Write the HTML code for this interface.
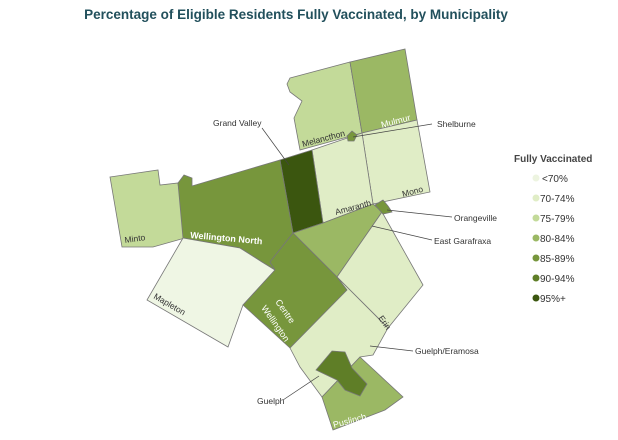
<!DOCTYPE html><html><head><style>body{margin:0;background:#fff;width:618px;height:435px;overflow:hidden}svg text{font-family:"Liberation Sans",sans-serif}</style></head><body>
<svg width="618" height="435" viewBox="0 0 618 435">
<text x="296" y="19" text-anchor="middle" font-size="13.5" font-weight="bold" fill="#22505c">Percentage of Eligible Residents Fully Vaccinated, by Municipality</text>
<g stroke="#777" stroke-width="0.8">
<polygon fill="#c3da99" points="290,78 350,62 362,133 300,150 294,118 302,101 290,92 287,84"/>
<polygon fill="#9bb864" points="350,62 405,49 417,120 362,133"/>
<polygon fill="#e0edc6" points="362,133 417,120 430,192 373,204"/>
<polygon fill="#e0edc6" points="312,150 362,133 373,204 323,223"/>
<polygon fill="#3b560f" points="280,160 312,150 323,223 293,233"/>
<polygon fill="#c3da99" points="110,177 158,170 160,185 178,183 185,238 153,247 122,247"/>
<polygon fill="#77963c" points="178,183 184,175 192,178 192,186 280,160 293,233 270,262 275,270 262,262 240,248 183,238"/>
<polygon fill="#eff6e4" points="183,238 240,248 262,262 275,270 243,305 228,347 147,300"/>
<polygon fill="#9bb864" points="293,233 323,223 373,204 382,212 337,277"/>
<polygon fill="#77963c" points="293,233 337,277 347,290 290,348 243,305 275,270 270,262"/>
<polygon fill="#e0edc6" points="382,212 423,285 388,328 337,277"/>
<polygon fill="#e0edc6" points="337,277 388,328 373,355 360,357 322,397 300,367 290,348 347,290"/>
<polygon fill="#9bb864" points="322,397 360,357 403,397 385,410 333,430"/>
<polygon fill="#5f7e27" points="316,370 332,351 345,352 352,368 367,384 360,396 345,390 337,380"/>
<polygon fill="#77963c" points="375,205 383,200 388,206 392,212 383,214"/>
<polygon fill="#77963c" points="347,136 352,131 357,135 354,141 348,141"/>
</g>
<g stroke="#444" stroke-width="0.7" fill="none">
<line x1="262" y1="128" x2="289" y2="165"/>
<line x1="353" y1="137" x2="432" y2="124"/>
<line x1="387" y1="210" x2="452" y2="217"/>
<line x1="372" y1="226" x2="432" y2="240"/>
<line x1="370" y1="346" x2="413" y2="351"/>
<line x1="283" y1="400" x2="319" y2="376"/>
</g>
<g font-size="8.5" fill="#333">
<text x="213" y="126">Grand Valley</text>
<text x="437" y="127">Shelburne</text>
<text x="454" y="221">Orangeville</text>
<text x="434" y="244">East Garafraxa</text>
<text x="415" y="354">Guelph/Eramosa</text>
<text x="257" y="404">Guelph</text>
<text x="125" y="243" transform="rotate(-8 125 243)">Minto</text>
<text x="303" y="147" transform="rotate(-15 303 147)">Melancthon</text>
<text x="336" y="215" transform="rotate(-15 336 215)">Amaranth</text>
<text x="403" y="197" transform="rotate(-15 403 197)">Mono</text>
<text x="153" y="298" transform="rotate(30 153 298)">Mapleton</text>
<text x="378" y="318" transform="rotate(55 378 318)">Erin</text>
</g>
<g font-size="9" fill="#fff">
<text x="190" y="238" transform="rotate(5 190 238)" font-weight="bold">Wellington North</text>
<text x="382" y="128" transform="rotate(-15 382 128)">Mulmur</text>
<text x="275" y="302" transform="rotate(55 275 302)">Centre</text>
<text x="261" y="308" transform="rotate(55 261 308)">Wellington</text>
<text x="334" y="428" transform="rotate(-15 334 428)">Puslinch</text>
</g>
<text x="514" y="162" font-size="10" font-weight="bold" fill="#444">Fully Vaccinated</text>
<g font-size="10" fill="#333">
<circle cx="536" cy="178" r="3.5" fill="#edf4e0"/><text x="542" y="182">&lt;70%</text>
<circle cx="536" cy="198" r="3.5" fill="#e0edc6"/><text x="540" y="202">70-74%</text>
<circle cx="536" cy="218" r="3.5" fill="#c3da99"/><text x="540" y="222">75-79%</text>
<circle cx="536" cy="238" r="3.5" fill="#9bb864"/><text x="540" y="242">80-84%</text>
<circle cx="536" cy="258" r="3.5" fill="#77963c"/><text x="540" y="262">85-89%</text>
<circle cx="536" cy="278" r="3.5" fill="#5f7e27"/><text x="540" y="282">90-94%</text>
<circle cx="536" cy="298" r="3.5" fill="#3b560f"/><text x="540" y="302">95%+</text>
</g>
</svg></body></html>
